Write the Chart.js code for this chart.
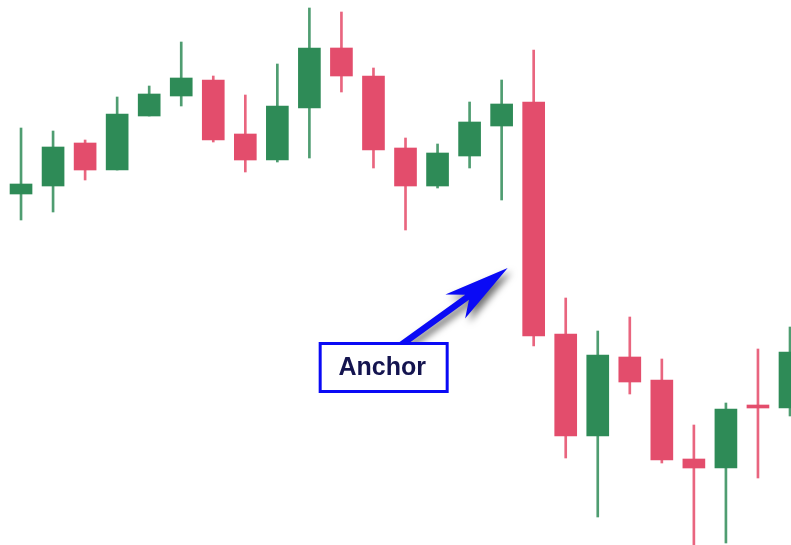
<!DOCTYPE html>
<html>
<head>
<meta charset="utf-8">
<script src="https://cdn.jsdelivr.net/npm/chart.js@4/dist/chart.umd.min.js"></script>
<style>
  html, body { margin: 0; padding: 0; background: #ffffff; }
  #wrap { width: 791px; height: 545px; }
</style>
</head>
<body>
<div id="wrap"><canvas id="c" width="791" height="545"></canvas></div>
<script>
// Candle data (price units)
const categories = ['1','2','3','4','5','6','7','8','9','10','11','12','13','14','15','16','17','18','19','20','21','22','23','24','25'];
const opens  = [351, 359, 402, 375, 429, 449, 465, 411, 385, 437, 497, 469, 397, 359, 389, 419, 443, 211, 109, 188, 165,  86,  77, 140, 137];
const closes = [361, 398, 375, 431, 451, 467, 405, 385, 439, 497, 469, 395, 359, 392, 423, 441, 209, 109, 190, 163,  85,  77, 136, 137, 193];
const highs  = [417, 414, 405, 448, 459, 503, 469, 450, 481, 537, 533, 477, 407, 401, 443, 465, 495, 247, 214, 228, 186, 120, 142, 196, 218];
const lows   = [325, 333, 365, 375, 429, 439, 403, 373, 383, 387, 453, 377, 315, 357, 377, 345, 199,  87,  28, 151,  82,  -5,   2,  67, 129];

const annotationText = 'Anchor';
const anchorIndex = 16;   // candle the arrow points at
const anchorValue = 277;  // price level the arrow points at

const UP = '#2e8b57', DOWN = '#e34d6c';
const UP_WICK = '#4f9d71', DOWN_WICK = '#e9657f';
const isUp = opens.map((o, i) => closes[i] >= o);

const bodyData = categories.map((c, i) => ({ x: i, y: [opens[i], closes[i]] }));
const wickData = categories.map((c, i) => ({ x: i, y: [lows[i], highs[i]] }));

const annotationPlugin = {
  id: 'anchorNote',
  afterDatasetsDraw(chart) {
    const ctx = chart.ctx;
    const xs = chart.scales.x, ys = chart.scales.y;
    const tipX = xs.getPixelForValue(anchorIndex) - 26;
    const tipY = ys.getPixelForValue(anchorValue);
    const tailX = tipX - 104, tailY = tipY + 75;
    const dx = tipX - tailX, dy = tipY - tailY;
    const L = Math.hypot(dx, dy);
    const ux = dx / L, uy = dy / L;
    const nx = -uy, ny = ux;
    const P = (a, b) => [tipX + ux * a + nx * b, tipY + uy * a + ny * b];
    const pts = [P(-L - 4, -3.2), P(-50, -3.2), P(-66, -15), P(0, 0), P(-64, 16), P(-50, 3.2), P(-L - 4, 3.2)];
    ctx.save();
    ctx.shadowColor = 'rgba(0,0,0,0.55)';
    ctx.shadowBlur = 7;
    ctx.shadowOffsetX = 4;
    ctx.shadowOffsetY = 4;
    ctx.fillStyle = '#0a0af5';
    ctx.beginPath();
    ctx.moveTo(pts[0][0], pts[0][1]);
    for (let k = 1; k < pts.length; k++) ctx.lineTo(pts[k][0], pts[k][1]);
    ctx.closePath();
    ctx.fill();
    ctx.restore();

    // label box
    const bx = tailX - 85, by = tailY - 1, bw = 130, bh = 51;
    ctx.save();
    ctx.fillStyle = '#ffffff';
    ctx.fillRect(bx, by, bw, bh);
    ctx.strokeStyle = '#0a0af5';
    ctx.lineWidth = 3;
    ctx.strokeRect(bx + 1.5, by + 1.5, bw - 3, bh - 3);
    ctx.fillStyle = '#14144f';
    ctx.font = 'bold 25px "Liberation Sans", Arial, sans-serif';
    ctx.textAlign = 'center';
    ctx.textBaseline = 'middle';
    ctx.fillText(annotationText, bx + bw / 2 - 1.5, by + bh / 2 + 0.5);
    ctx.restore();
  }
};

new Chart(document.getElementById('c'), {
  type: 'bar',
  data: {
    datasets: [
      {
        label: 'body',
        data: bodyData,
        backgroundColor: isUp.map(u => u ? UP : DOWN),
        borderWidth: 0,
        borderSkipped: false,
        barThickness: 22,
        grouped: false
      },
      {
        label: 'wick',
        data: wickData,
        backgroundColor: isUp.map(u => u ? UP_WICK : DOWN_WICK),
        borderWidth: 0,
        borderSkipped: false,
        barThickness: 2,
        grouped: false
      }
    ]
  },
  options: {
    responsive: false,
    animation: false,
    devicePixelRatio: 1,
    layout: { padding: 0 },
    plugins: { legend: { display: false }, tooltip: { enabled: false } },
    scales: {
      x: { type: 'linear', display: false, offset: false, min: -0.65625, max: 24.03125 },
      y: { type: 'linear', display: false, min: 0, max: 545 }
    }
  },
  plugins: [annotationPlugin]
});
</script>
</body>
</html>
